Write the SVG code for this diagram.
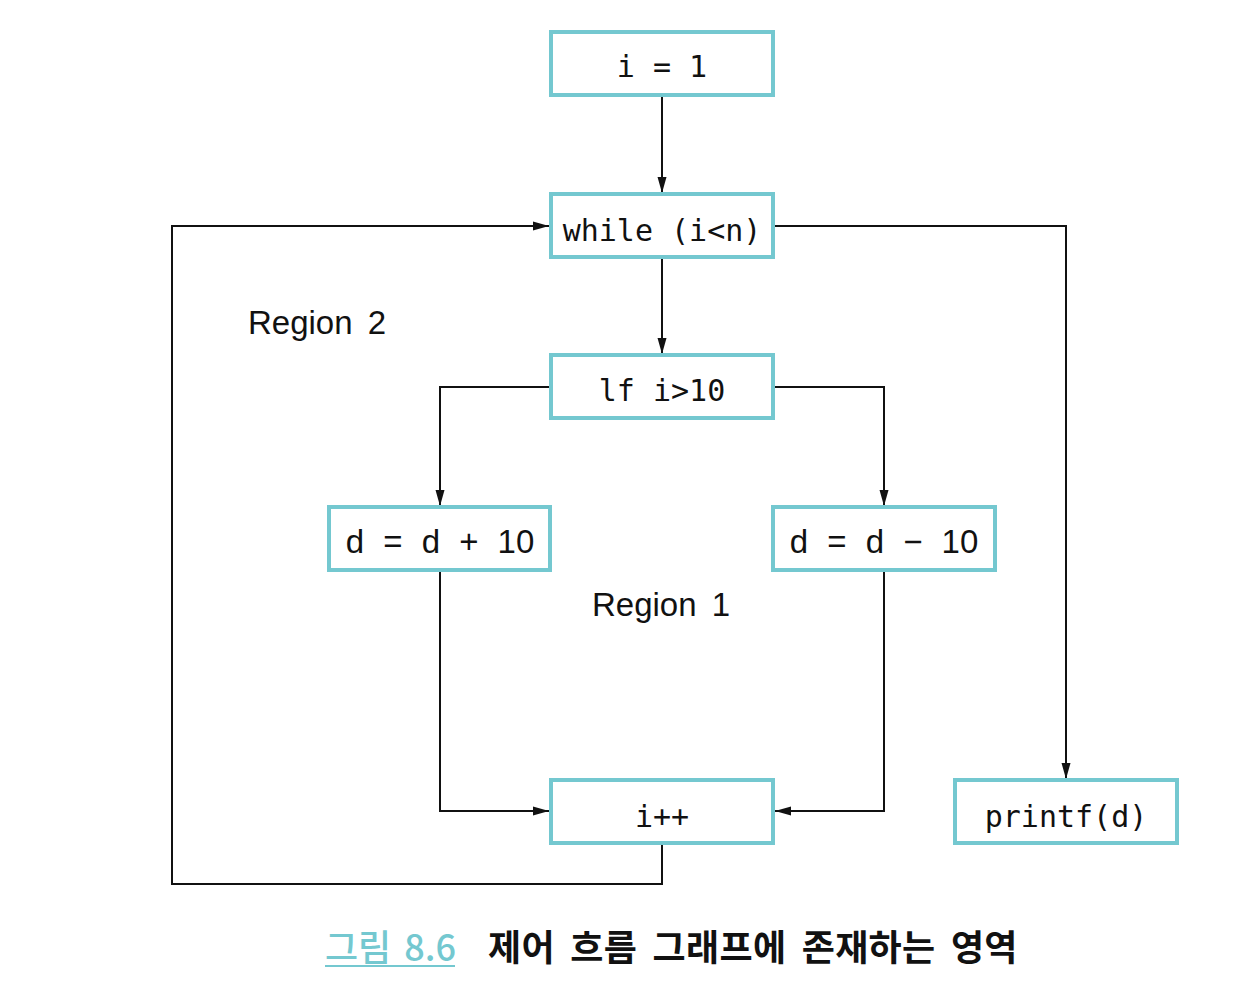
<svg xmlns="http://www.w3.org/2000/svg" width="1247" height="1000" viewBox="0 0 1247 1000">
<style>
.box{fill:#fff;stroke:#74c8d0;stroke-width:4}
.mono{font-family:"DejaVu Sans Mono",monospace;font-size:30px;fill:#111;text-anchor:middle}
.sans{font-family:"Liberation Sans",Arial,sans-serif;font-size:33px;fill:#111}
.edge{fill:none;stroke:#111;stroke-width:2}
</style>
<defs>
<marker id="ah" viewBox="0 0 16 10" refX="16" refY="5" markerWidth="16" markerHeight="10" markerUnits="userSpaceOnUse" orient="auto">
<path d="M0,0.5 L16,5 L0,9.5 z" fill="#111"/>
</marker>
</defs>
<rect width="1247" height="1000" fill="#fff"/>
<g id="connectors">
<path class="edge" d="M662,96 V193" marker-end="url(#ah)"/>
<path class="edge" d="M662,258 V354" marker-end="url(#ah)"/>
<path class="edge" d="M775,226 H1066 V779" marker-end="url(#ah)"/>
<path class="edge" d="M662,845 V884 H172 V226 H549" marker-end="url(#ah)"/>
<path class="edge" d="M549,387 H440 V506" marker-end="url(#ah)"/>
<path class="edge" d="M775,387 H884 V506" marker-end="url(#ah)"/>
<path class="edge" d="M440,572 V811 H549" marker-end="url(#ah)"/>
<path class="edge" d="M884,572 V811 H775" marker-end="url(#ah)"/>
</g>
<g id="n1"><rect class="box" x="551" y="32" width="222" height="63"/><text class="mono" x="662" y="77">i = 1</text></g>
<g id="n2"><rect class="box" x="551" y="194" width="222" height="63"/><text class="mono" x="662" y="241">while (i&lt;n)</text></g>
<g id="n3"><rect class="box" x="551" y="355" width="222" height="63"/><text class="mono" x="662" y="401">lf i&gt;10</text></g>
<g id="n4"><rect class="box" x="329" y="507" width="221" height="63"/><text class="sans" x="440" y="553" text-anchor="middle" style="word-spacing:10px">d = d + 10</text></g>
<g id="n5"><rect class="box" x="773" y="507" width="222" height="63"/><text class="sans" x="884" y="553" text-anchor="middle" style="word-spacing:10px">d = d − 10</text></g>
<g id="n6"><rect class="box" x="551" y="780" width="222" height="63"/><text class="mono" x="662" y="827">i++</text></g>
<g id="n7"><rect class="box" x="955" y="780" width="222" height="63"/><text class="mono" x="1066" y="827">printf(d)</text></g>
<text class="sans" x="248" y="334" style="word-spacing:6px">Region 2</text>
<text class="sans" x="592" y="616" style="word-spacing:6px">Region 1</text>
<g id="caption" font-family="'Noto Sans CJK KR',sans-serif" font-size="36">
<text x="325" y="961" fill="#74c8d0" font-weight="500" style="word-spacing:5px">그림 8.6</text>
<line x1="325" y1="966" x2="455" y2="966" stroke="#74c8d0" stroke-width="2"/>
<text x="488" y="961" fill="#111" font-weight="bold" style="word-spacing:7px;letter-spacing:0.3px">제어 흐름 그래프에 존재하는 영역</text>
</g>
</svg>
